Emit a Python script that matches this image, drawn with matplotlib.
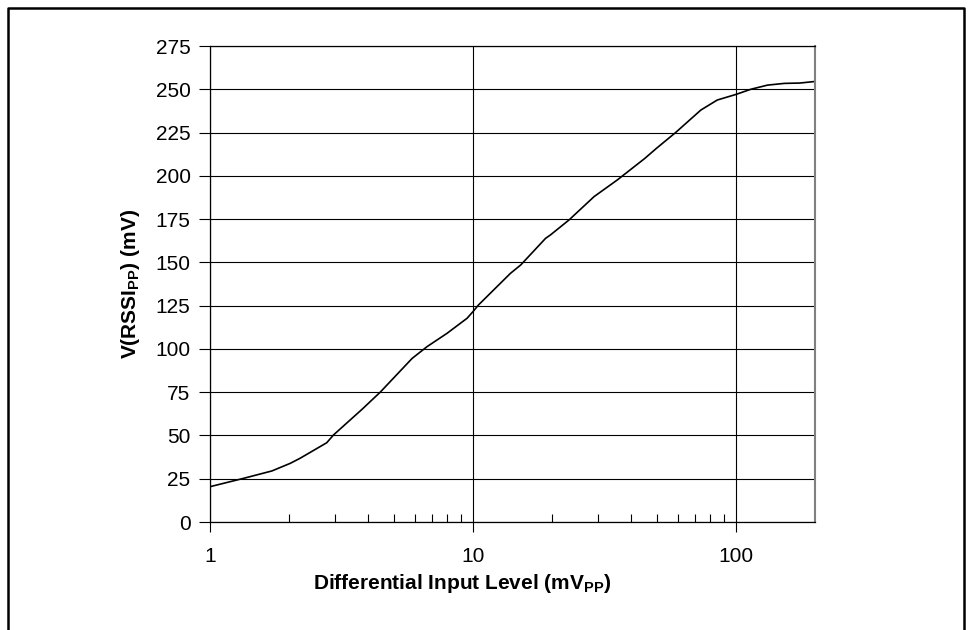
#!/usr/bin/env python3
"""RSSI output amplitude versus differential input level."""

import matplotlib

matplotlib.use("Agg")
import matplotlib.pyplot as plt
from matplotlib.lines import Line2D
from matplotlib.ticker import FixedLocator, NullFormatter

plt.rcParams["font.family"] = ["Liberation Sans", "DejaVu Sans"]
plt.rcParams["mathtext.fontset"] = "custom"
plt.rcParams["mathtext.rm"] = "Liberation Sans"
plt.rcParams["mathtext.bf"] = "Liberation Sans:bold"

# input level (mVpp) and RSSI amplitude (mV)
input_mvpp = [1, 1.34, 1.72, 2.02, 2.2, 2.78, 2.95, 3.41, 3.78, 4.44, 5.87, 6.69,
              7.97, 9.5, 10, 10.5, 13.9, 15.2, 18.9, 19.7, 23.2, 28.9, 35.4, 45,
              50, 59, 73.6, 85, 100, 114, 132, 153, 175, 200]
rssi_mv = [20.4, 25.2, 29.5, 33.9, 36.8, 45.8, 50.3, 58.9, 65, 75, 94.5, 101.3,
           109, 117.7, 121.5, 125.4, 143.7, 148.5, 163.9, 165.8, 174.5, 188, 197.6, 210,
           216, 225, 238, 243.8, 247, 250, 252.4, 253.4, 253.6, 254.5]

y_ticks = list(range(0, 276, 25))
x_major = [1, 10, 100]
x_minor = [2, 3, 4, 5, 6, 7, 8, 9, 20, 30, 40, 50, 60, 70, 80, 90]

W, H = 969, 630
fig = plt.figure(figsize=(W / 100, H / 100), dpi=100)
ax = fig.add_axes([210 / W, (H - 522) / H, (815 - 210) / W, (522 - 46) / H])

ax.plot(input_mvpp, rssi_mv, color="black", linewidth=1.2)

ax.set_xscale("log")
ax.set_xlim(1, 200)
ax.set_ylim(0, 275)

ax.xaxis.set_major_locator(FixedLocator(x_major))
ax.xaxis.set_minor_locator(FixedLocator(x_minor))
ax.xaxis.set_minor_formatter(NullFormatter())
ax.set_xticklabels([str(v) for v in x_major])
ax.set_yticks(y_ticks)

ax.grid(True, which="major", axis="both", color="black", linewidth=0.8)
ax.set_axisbelow(True)

ax.tick_params(axis="y", direction="out", length=8, width=0.8, labelsize=15, pad=6)
ax.tick_params(axis="x", which="major", direction="out", length=7, width=0.8,
               labelsize=15, pad=11)
ax.tick_params(axis="x", which="minor", direction="in", length=6, width=0.8)

for side in ("left", "bottom", "top"):
    ax.spines[side].set_linewidth(0.9)
ax.spines["right"].set_color("#808080")
ax.spines["right"].set_linewidth(1.5)

ax.set_xlabel(r"Differential Input Level (mV$_\mathbf{PP}$)", fontsize=15,
              fontweight="bold")
ax.xaxis.set_label_coords((462 - 210) / (815 - 210), -0.105)
ax.set_ylabel(r"V(RSSI$_\mathbf{PP}$) (mV)", fontsize=15, fontweight="bold")
ax.yaxis.set_label_coords(-(210 - 142) / (815 - 210), 0.5)

# outer frame (open at the bottom)
fx0, fx1, fy1 = 8 / W, 964 / W, 1 - 8 / H
fig.add_artist(Line2D([fx0, fx0, fx1, fx1], [0, fy1, fy1, 0],
                      transform=fig.transFigure, color="black", linewidth=1.8))

fig.savefig("out.png", dpi=100)
